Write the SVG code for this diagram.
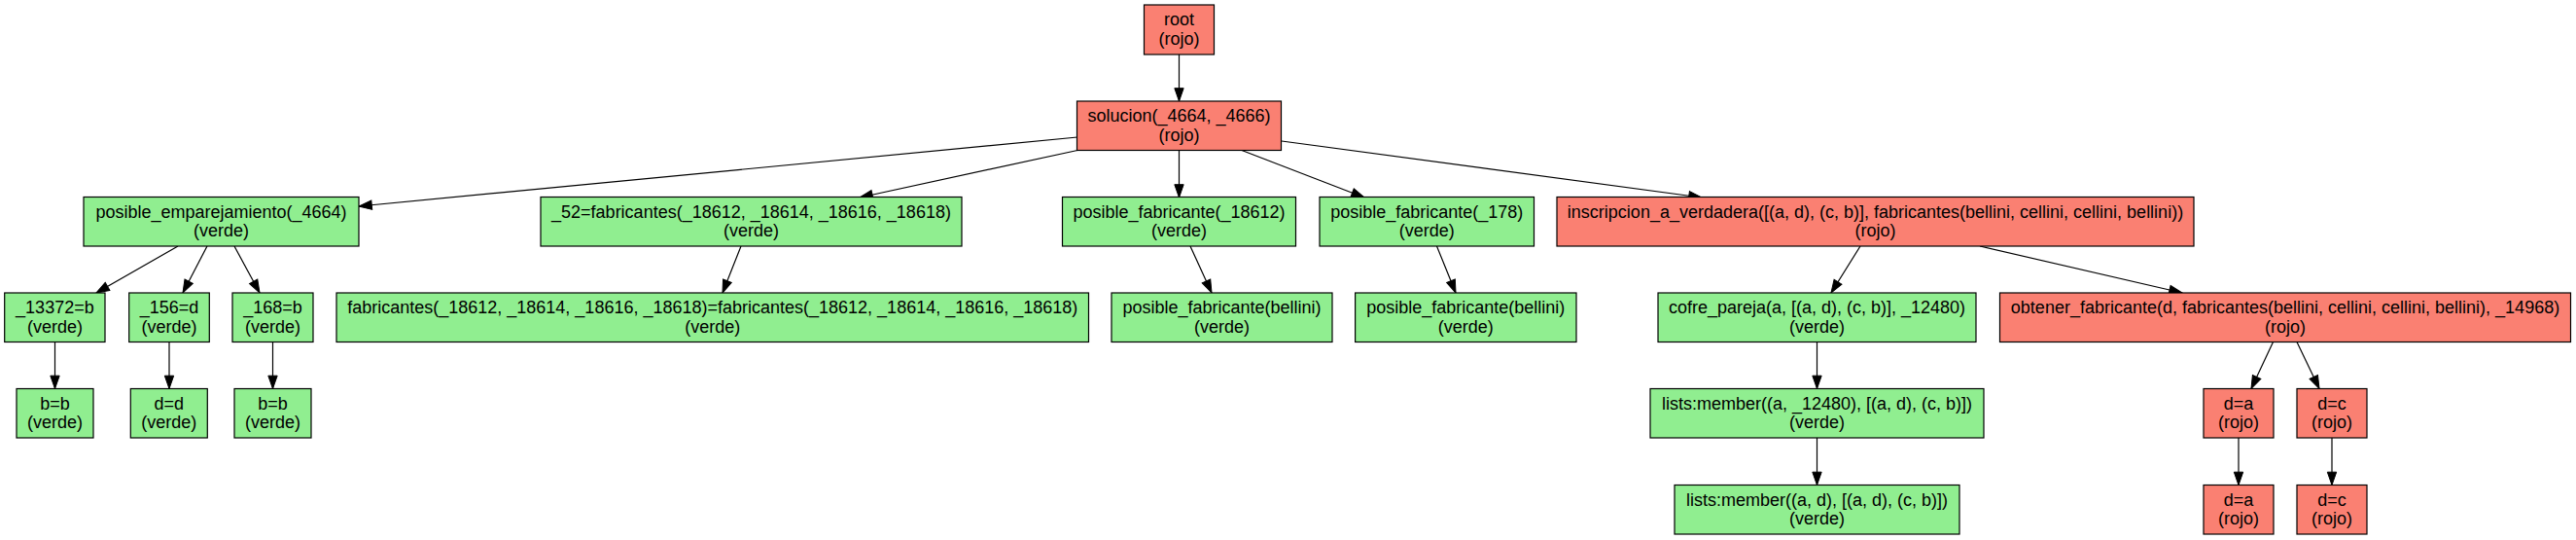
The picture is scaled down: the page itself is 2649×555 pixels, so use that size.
<svg xmlns="http://www.w3.org/2000/svg" width="2649" height="555" viewBox="0 0 2649 555">
<style>
.n rect{stroke:#000;stroke-width:1.2}
.r rect{fill:#FA8072}
.g rect{fill:#90EE90}
text{font-family:"Liberation Sans",Arial,sans-serif;font-size:18px;text-anchor:middle;fill:#000}
.e line{stroke:#000;stroke-width:1.2;marker-end:url(#ah)}
</style>
<defs>
<marker id="ah" markerUnits="userSpaceOnUse" markerWidth="14" markerHeight="10" refX="13.3" refY="4.67" orient="auto" overflow="visible">
<path d="M0,0 L13.3,4.67 L0,9.33 z" fill="#000" stroke="#000" stroke-width="1"/>
</marker>
</defs>
<rect width="2649" height="555" fill="#fff"/>
<g class="e" id="edges">
<line x1="1212.5" y1="56" x2="1212.5" y2="104"/>
<line x1="1108" y1="141" x2="369" y2="212"/>
<line x1="1108" y1="154.5" x2="884" y2="203"/>
<line x1="1212.5" y1="154.5" x2="1212.5" y2="203"/>
<line x1="1277" y1="154.5" x2="1403" y2="203"/>
<line x1="1318" y1="145" x2="1750" y2="203"/>
<line x1="183" y1="253" x2="99" y2="301"/>
<line x1="213" y1="253" x2="188" y2="301"/>
<line x1="241" y1="253" x2="267" y2="301"/>
<line x1="762" y1="253" x2="743" y2="301"/>
<line x1="1224" y1="253" x2="1246" y2="301"/>
<line x1="1477.5" y1="253" x2="1497" y2="301"/>
<line x1="1913" y1="253" x2="1883" y2="301"/>
<line x1="2036" y1="253" x2="2244" y2="301"/>
<line x1="56.5" y1="351.5" x2="56.5" y2="399.5"/>
<line x1="174" y1="351.5" x2="174" y2="399.5"/>
<line x1="280.5" y1="351.5" x2="280.5" y2="399.5"/>
<line x1="1868.5" y1="351.5" x2="1868.5" y2="399.5"/>
<line x1="2337.5" y1="351.5" x2="2315" y2="399.5"/>
<line x1="2362" y1="351.5" x2="2385" y2="399.5"/>
<line x1="1868.5" y1="450" x2="1868.5" y2="498.5"/>
<line x1="2302" y1="450" x2="2302" y2="498.5"/>
<line x1="2398" y1="450" x2="2398" y2="498.5"/>
</g>
<g id="root" class="n r"><rect x="1176.5" y="5" width="72" height="51"/><text x="1212.5" y="26">root</text><text x="1212.5" y="45.5">(rojo)</text></g>
<g id="solucion" class="n r"><rect x="1107.5" y="104" width="210" height="50.5"/><text x="1212.5" y="125">solucion(_4664, _4666)</text><text x="1212.5" y="144.5">(rojo)</text></g>
<g id="posible_emparejamiento" class="n g"><rect x="86" y="202.5" width="283" height="50.5"/><text x="227.5" y="223.5">posible_emparejamiento(_4664)</text><text x="227.5" y="243">(verde)</text></g>
<g id="fabricantes52" class="n g"><rect x="556" y="202.5" width="433" height="50.5"/><text x="772.5" y="223.5">_52=fabricantes(_18612, _18614, _18616, _18618)</text><text x="772.5" y="243">(verde)</text></g>
<g id="posible_fabricante_18612" class="n g"><rect x="1092.5" y="202.5" width="240" height="50.5"/><text x="1212.5" y="223.5">posible_fabricante(_18612)</text><text x="1212.5" y="243">(verde)</text></g>
<g id="posible_fabricante_178" class="n g"><rect x="1357" y="202.5" width="220.5" height="50.5"/><text x="1467.25" y="223.5">posible_fabricante(_178)</text><text x="1467.25" y="243">(verde)</text></g>
<g id="inscripcion" class="n r"><rect x="1601" y="202.5" width="655" height="50.5"/><text x="1928.5" y="223.5">inscripcion_a_verdadera([(a, d), (c, b)], fabricantes(bellini, cellini, cellini, bellini))</text><text x="1928.5" y="243">(rojo)</text></g>
<g id="n13372" class="n g"><rect x="4.7" y="301" width="103.3" height="50.5"/><text x="56.4" y="322">_13372=b</text><text x="56.4" y="341.5">(verde)</text></g>
<g id="n156" class="n g"><rect x="132.7" y="301" width="82.6" height="50.5"/><text x="174" y="322">_156=d</text><text x="174" y="341.5">(verde)</text></g>
<g id="n168" class="n g"><rect x="239" y="301" width="83" height="50.5"/><text x="280.5" y="322">_168=b</text><text x="280.5" y="341.5">(verde)</text></g>
<g id="fab_eq" class="n g"><rect x="346" y="301" width="773.5" height="50.5"/><text x="732.75" y="322">fabricantes(_18612, _18614, _18616, _18618)=fabricantes(_18612, _18614, _18616, _18618)</text><text x="732.75" y="341.5">(verde)</text></g>
<g id="bellini1" class="n g"><rect x="1143" y="301" width="227" height="50.5"/><text x="1256.5" y="322">posible_fabricante(bellini)</text><text x="1256.5" y="341.5">(verde)</text></g>
<g id="bellini2" class="n g"><rect x="1393.6" y="301" width="227.4" height="50.5"/><text x="1507.3" y="322">posible_fabricante(bellini)</text><text x="1507.3" y="341.5">(verde)</text></g>
<g id="cofre_pareja" class="n g"><rect x="1705" y="301" width="327" height="50.5"/><text x="1868.5" y="322">cofre_pareja(a, [(a, d), (c, b)], _12480)</text><text x="1868.5" y="341.5">(verde)</text></g>
<g id="obtener_fabricante" class="n r"><rect x="2056.5" y="301" width="587" height="50.5"/><text x="2350" y="322">obtener_fabricante(d, fabricantes(bellini, cellini, cellini, bellini), _14968)</text><text x="2350" y="341.5">(rojo)</text></g>
<g id="bb1" class="n g"><rect x="17" y="399.5" width="79" height="50.5"/><text x="56.5" y="420.5">b=b</text><text x="56.5" y="440">(verde)</text></g>
<g id="dd" class="n g"><rect x="134.3" y="399.5" width="79" height="50.5"/><text x="173.8" y="420.5">d=d</text><text x="173.8" y="440">(verde)</text></g>
<g id="bb2" class="n g"><rect x="241" y="399.5" width="79" height="50.5"/><text x="280.5" y="420.5">b=b</text><text x="280.5" y="440">(verde)</text></g>
<g id="lists1" class="n g"><rect x="1697" y="399.5" width="343" height="50.5"/><text x="1868.5" y="420.5">lists:member((a, _12480), [(a, d), (c, b)])</text><text x="1868.5" y="440">(verde)</text></g>
<g id="da1" class="n r"><rect x="2266" y="399.5" width="72" height="50.5"/><text x="2302" y="420.5">d=a</text><text x="2302" y="440">(rojo)</text></g>
<g id="dc1" class="n r"><rect x="2362" y="399.5" width="72" height="50.5"/><text x="2398" y="420.5">d=c</text><text x="2398" y="440">(rojo)</text></g>
<g id="lists2" class="n g"><rect x="1722" y="498.5" width="293" height="50.5"/><text x="1868.5" y="519.5">lists:member((a, d), [(a, d), (c, b)])</text><text x="1868.5" y="539">(verde)</text></g>
<g id="da2" class="n r"><rect x="2266" y="498.5" width="72" height="50.5"/><text x="2302" y="519.5">d=a</text><text x="2302" y="539">(rojo)</text></g>
<g id="dc2" class="n r"><rect x="2362" y="498.5" width="72" height="50.5"/><text x="2398" y="519.5">d=c</text><text x="2398" y="539">(rojo)</text></g>
</svg>
